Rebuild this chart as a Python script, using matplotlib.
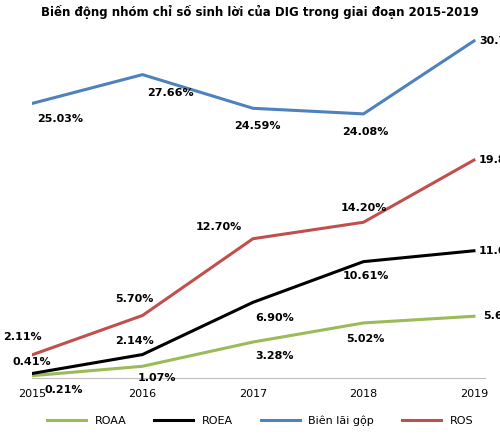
import matplotlib.pyplot as plt

years = ["2015", "2016", "2017", "2018", "2019"]
roaa = [0.21, 1.07, 3.28, 5.02, 5.63]
roea = [0.41, 2.14, 6.90, 10.61, 11.60]
bien = [25.03, 27.66, 24.59, 24.08, 30.73]
ros = [2.11, 5.70, 12.70, 14.20, 19.87]

fig = plt.figure(figsize=(5, 4.36), dpi=100)
ax = fig.add_axes([0.064, 0.133, 0.906, 0.80])
x = list(range(len(years)))

series = [
    ("ROAA", roaa, "#9bbb59", [(32, -14), (14, -12), (22, -14), (2, -16), (28, 0)]),
    ("ROEA", roea, "black", [(0, 12), (-8, 14), (22, -16), (2, -14), (28, 0)]),
    ("Biên lãi gộp", bien, "#4f81bd", [(28, -16), (28, -18), (4, -18), (2, -18), (28, 0)]),
    ("ROS", ros, "#c0504d", [(-10, 18), (-8, 16), (-34, 12), (0, 14), (28, 0)]),
]
for name, vals, col, offs in series:
    ax.plot(x, vals, color=col, lw=2.2, label=name)
    for xi, v, off in zip(x, vals, offs):
        ax.annotate(f"{v:.2f}%", (xi, v), xytext=off, textcoords="offset pixels",
                    ha="center", va="center", fontsize=8, fontweight="bold")

ax.set_xlim(0, 4.1)
ax.set_ylim(0, 31.8)
ax.set_xticks(x)
ax.set_xticklabels(years, fontsize=8)
ax.set_yticks([])
for s in ["top", "right", "left"]:
    ax.spines[s].set_visible(False)
ax.spines["bottom"].set_color("#bfbfbf")
ax.tick_params(axis="x", length=0, pad=8)
fig.text(0.52, 0.972, "Biến động nhóm chỉ số sinh lời của DIG trong giai đoạn 2015-2019",
         ha="center", va="center", fontsize=8.5, fontweight="bold")
fig.legend(loc="lower center", ncol=4, frameon=False, fontsize=8,
           bbox_to_anchor=(0.52, 0.0), handlelength=3.5, columnspacing=2.5)
fig.savefig("out.png")
